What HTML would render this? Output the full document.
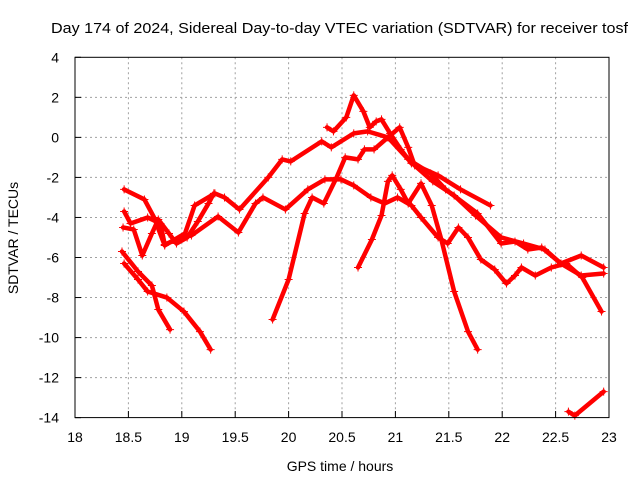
<!DOCTYPE html>
<html><head><meta charset="utf-8"><style>
body{margin:0;background:#fff;}
svg text{font-family:"Liberation Sans",sans-serif;font-size:14px;fill:#000;}
</style></head><body>
<svg id="chart" width="640" height="480">
<rect width="640" height="480" fill="#fff"/>
<text x="51" y="33" textLength="577" lengthAdjust="spacingAndGlyphs" style="font-size:15px">Day 174 of 2024, Sidereal Day-to-day VTEC variation (SDTVAR) for receiver tosf</text>
<text x="340" y="471" text-anchor="middle">GPS time / hours</text>
<text transform="translate(18,238) rotate(-90)" text-anchor="middle">SDTVAR / TECUs</text>
<g id="grid"></g><g id="series"></g>
<rect x="75" y="57.3" width="534" height="360.3" fill="none" stroke="#000" stroke-width="1"/>
</svg>
<script>
const xTicks=[18,18.5,19,19.5,20,20.5,21,21.5,22,22.5,23];
const yTicks=[4,2,0,-2,-4,-6,-8,-10,-12,-14];
const s1=[[18.46,-2.6],[18.65,-3.1],[18.74,-4.0],[18.84,-5.4],[19.03,-4.8],[19.12,-3.4],[19.31,-2.8],[19.40,-3.0],[19.54,-3.6],[19.81,-2.0],[19.94,-1.1],[20.02,-1.2],[20.31,-0.2],[20.40,-0.5],[20.61,0.2],[20.74,0.3],[20.93,0.0],[21.12,-1.1],[21.33,-1.8],[21.47,-2.6],[21.77,-3.8],[21.99,-5.3],[22.12,-5.2],[22.24,-5.6],[22.37,-5.5],[22.55,-6.3],[22.74,-6.9],[22.95,-6.8]];
const s2=[[20.36,0.5],[20.42,0.3],[20.54,1.0],[20.61,2.1],[20.70,1.3],[20.76,0.5],[20.82,0.8],[20.87,0.9],[20.95,0.2],[21.05,-0.6],[21.15,-1.3],[21.40,-1.9],[21.61,-2.6],[21.89,-3.4]];
const s3=[[19.85,-9.1],[20.0,-7.1],[20.15,-3.8],[20.22,-3.0],[20.33,-3.3],[20.45,-2.0],[20.53,-1.0],[20.65,-1.1],[20.71,-0.6],[20.8,-0.6],[20.93,0.0],[21.04,0.5],[21.12,-0.5],[21.18,-1.4],[21.35,-2.2],[21.55,-2.9],[21.75,-3.9],[21.99,-5.0],[22.2,-5.3],[22.4,-5.6],[22.55,-6.3],[22.74,-5.9],[22.95,-6.5]];
const s4=[[18.46,-3.7],[18.52,-4.3],[18.68,-4.0],[18.80,-4.3],[18.84,-5.35],[19.0,-5.0],[19.09,-4.9],[19.34,-3.95],[19.53,-4.75],[19.69,-3.3],[19.76,-3.0],[19.97,-3.6],[20.18,-2.6],[20.34,-2.1],[20.49,-2.1],[20.61,-2.4],[20.77,-3.0],[20.9,-3.3],[21.02,-3.0],[21.15,-3.4],[21.24,-4.0],[21.4,-5.0],[21.49,-5.3],[21.59,-4.5],[21.68,-5.0],[21.8,-6.1],[21.93,-6.6],[22.04,-7.3],[22.12,-6.9],[22.18,-6.5],[22.31,-6.9],[22.46,-6.5],[22.6,-6.3],[22.75,-7.0],[22.93,-8.7]];
const s5=[[18.45,-4.5],[18.55,-4.6],[18.63,-5.9],[18.72,-4.8],[18.78,-4.1],[18.88,-4.8],[18.95,-5.3],[19.05,-5.0],[19.15,-4.2],[19.25,-3.3],[19.3,-2.8]];
const s6=[[18.44,-5.7],[18.59,-6.7],[18.72,-7.4],[18.78,-8.6],[18.89,-9.6]];
const s7=[[18.46,-6.3],[18.59,-7.1],[18.68,-7.7],[18.86,-8.0],[19.02,-8.7],[19.17,-9.7],[19.27,-10.6]];
const s8=[[20.65,-6.5],[20.78,-5.1],[20.87,-3.9],[20.93,-2.2],[20.97,-1.9],[21.05,-2.6],[21.12,-3.3],[21.24,-2.3],[21.34,-3.4],[21.43,-5.1],[21.55,-7.7],[21.68,-9.7],[21.77,-10.6]];
const s9=[[22.62,-13.7],[22.68,-13.9],[22.95,-12.7]];
const allSeries=[s1,s2,s3,s4,s5,s6,s7,s8,s9];
const X=h=>75+(h-18)*106.8;
const Y=v=>57.3+(4-v)*20.02;
const NS='http://www.w3.org/2000/svg';
const grid=document.getElementById('grid');
xTicks.forEach(t=>{
 const x=X(t);
 if(t>18&&t<23){const l=document.createElementNS(NS,'line');
 l.setAttribute('x1',x);l.setAttribute('x2',x);l.setAttribute('y1',57.3);l.setAttribute('y2',417.6);
 l.setAttribute('stroke','#a0a0a0');l.setAttribute('stroke-dasharray','2,3');
 
 
 grid.appendChild(l);}
 const tk=document.createElementNS(NS,'line');
 tk.setAttribute('x1',x);tk.setAttribute('x2',x);tk.setAttribute('y1',417.6);tk.setAttribute('y2',411);tk.setAttribute('stroke','#000');
 
 
 grid.appendChild(tk);
 const tx=document.createElementNS(NS,'text');
 tx.setAttribute('x',x);tx.setAttribute('y',442);tx.setAttribute('text-anchor','middle');tx.textContent=String(t);
 
 
 grid.appendChild(tx);
});
yTicks.forEach(t=>{
 const y=Y(t);
 if(t<4&&t>-14){const l=document.createElementNS(NS,'line');
 l.setAttribute('x1',75);l.setAttribute('x2',609);l.setAttribute('y1',y);l.setAttribute('y2',y);
 l.setAttribute('stroke','#a0a0a0');l.setAttribute('stroke-dasharray','2,3');
 
 
 grid.appendChild(l);}
 const tk=document.createElementNS(NS,'line');
 tk.setAttribute('x1',75);tk.setAttribute('x2',81);tk.setAttribute('y1',y);tk.setAttribute('y2',y);tk.setAttribute('stroke','#000');
 
 
 grid.appendChild(tk);
 const tx=document.createElementNS(NS,'text');
 tx.setAttribute('x',59);tx.setAttribute('y',y+5);tx.setAttribute('text-anchor','end');tx.textContent=String(t);
 
 
 grid.appendChild(tx);
});
const sg=document.getElementById('series');
allSeries.forEach((s,i)=>{
 const p=document.createElementNS(NS,'polyline');
 p.setAttribute('points',s.map(d=>X(d[0])+','+Y(d[1])).join(' '));
 p.setAttribute('fill','none');p.setAttribute('stroke','#ff0000');p.setAttribute('stroke-width','4.5');p.setAttribute('stroke-linejoin','round');p.setAttribute('stroke-linecap','round');
 
 
 sg.appendChild(p);
 s.forEach(d=>{
  const m=document.createElementNS(NS,'path');
  const x=X(d[0]),y=Y(d[1]);
  m.setAttribute('d',`M${x-4},${y}H${x+4}M${x},${y-4}V${y+4}`);
  m.setAttribute('stroke','#ff0000');m.setAttribute('stroke-width','1');
  
  
  sg.appendChild(m);
 });
});
</script>
</body></html>
